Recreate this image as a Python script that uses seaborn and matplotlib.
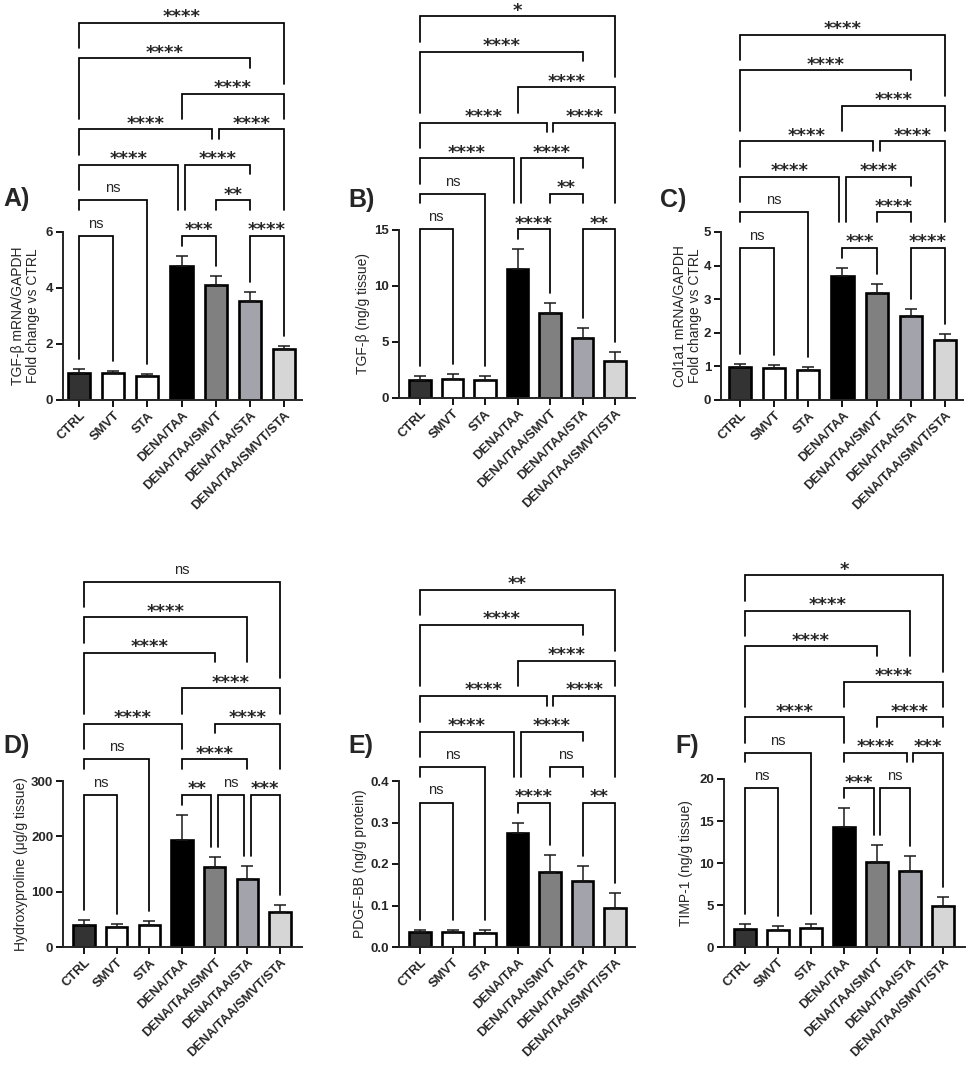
"""Six-panel fibrosis marker bar charts with significance brackets."""

import numpy as np
import pandas as pd
import matplotlib
matplotlib.use("Agg")
import matplotlib.pyplot as plt
import seaborn as sns

# ---- data -----------------------------------------------------------------
groups = ["CTRL", "SMVT", "STA", "DENA/TAA", "DENA/TAA/SMVT",
          "DENA/TAA/STA", "DENA/TAA/SMVT/STA"]
bar_colors = ["#333333", "#ffffff", "#ffffff", "#000000",
              "#808080", "#a3a3ab", "#d6d6d6"]

tgfb_mrna = [0.98, 0.96, 0.87, 4.77, 4.09, 3.54, 1.81]
tgfb_mrna_err = [0.12, 0.06, 0.07, 0.38, 0.35, 0.33, 0.13]

tgfb_protein = [1.63, 1.69, 1.63, 11.49, 7.57, 5.35, 3.27]
tgfb_protein_err = [0.30, 0.41, 0.37, 1.79, 0.95, 0.89, 0.83]

col1a1_mrna = [0.99, 0.94, 0.89, 3.70, 3.19, 2.49, 1.79]
col1a1_mrna_err = [0.08, 0.10, 0.10, 0.23, 0.26, 0.23, 0.17]

hydroxyproline = [40, 37, 39, 193, 145, 122, 64]
hydroxyproline_err = [9, 5, 8, 46, 17, 25, 12]

pdgf_bb = [0.035, 0.035, 0.034, 0.274, 0.180, 0.158, 0.095]
pdgf_bb_err = [0.006, 0.007, 0.006, 0.026, 0.042, 0.036, 0.036]

timp1 = [2.18, 2.06, 2.22, 14.33, 10.08, 9.00, 4.92]
timp1_err = [0.60, 0.48, 0.56, 2.17, 2.02, 1.80, 0.98]

# comparisons: (group i, group j, stacking level, significance)
comps_a = [(0, 1, 1, "ns"), (3, 4, 1, "***"), (5, 6, 1, "****"),
           (0, 2, 2, "ns"), (4, 5, 2, "**"),
           (0, 3, 3, "****"), (3, 5, 3, "****"),
           (0, 4, 4, "****"), (4, 6, 4, "****"),
           (3, 6, 5, "****"), (0, 5, 6, "****"), (0, 6, 7, "****")]
comps_b = [(0, 1, 1, "ns"), (3, 4, 1, "****"), (5, 6, 1, "**"),
           (0, 2, 2, "ns"), (4, 5, 2, "**"),
           (0, 3, 3, "****"), (3, 5, 3, "****"),
           (0, 4, 4, "****"), (4, 6, 4, "****"),
           (3, 6, 5, "****"), (0, 5, 6, "****"), (0, 6, 7, "*")]
comps_c = [(0, 1, 1, "ns"), (3, 4, 1, "***"), (5, 6, 1, "****"),
           (0, 2, 2, "ns"), (4, 5, 2, "****"),
           (0, 3, 3, "****"), (3, 5, 3, "****"),
           (0, 4, 4, "****"), (4, 6, 4, "****"),
           (3, 6, 5, "****"), (0, 5, 6, "****"), (0, 6, 7, "****")]
comps_d = [(0, 1, 1, "ns"), (3, 4, 1, "**"), (4, 5, 1, "ns"), (5, 6, 1, "***"),
           (0, 2, 2, "ns"), (3, 5, 2, "****"),
           (0, 3, 3, "****"), (4, 6, 3, "****"),
           (3, 6, 4, "****"), (0, 4, 5, "****"),
           (0, 5, 6, "****"), (0, 6, 7, "ns")]
comps_e = [(0, 1, 1, "ns"), (3, 4, 1, "****"), (5, 6, 1, "**"),
           (0, 2, 2, "ns"), (4, 5, 2, "ns"),
           (0, 3, 3, "****"), (3, 5, 3, "****"),
           (0, 4, 4, "****"), (4, 6, 4, "****"),
           (3, 6, 5, "****"), (0, 5, 6, "****"), (0, 6, 7, "**")]
comps_f = [(0, 1, 1, "ns"), (3, 4, 1, "***"), (4, 5, 1, "ns"),
           (0, 2, 2, "ns"), (3, 5, 2, "****"), (5, 6, 2, "***"),
           (0, 3, 3, "****"), (4, 6, 3, "****"),
           (3, 6, 4, "****"), (0, 4, 5, "****"),
           (0, 5, 6, "****"), (0, 6, 7, "*")]

# ---- layout (pixel geometry of the 969x1070 figure) ------------------------
W, H = 969, 1070
# left spine, right end, first bar, last bar, zero line, top tick, axes top
layout = {
    "A": dict(box=(63, 302, 79, 284, 400, 232, 0), ylab_x=40, letter=(3, 199)),
    "B": dict(box=(399, 635, 420, 615, 398, 230, 0), ylab_x=370, letter=(348, 200)),
    "C": dict(box=(721, 963, 740, 945, 400, 232, 0), ylab_x=702, letter=(660, 200)),
    "D": dict(box=(63, 302, 84, 280, 947, 781, 545), ylab_x=28, letter=(3, 746)),
    "E": dict(box=(399, 635, 420, 615, 947, 781, 545), ylab_x=367, letter=(348, 746)),
    "F": dict(box=(724, 965, 745, 943, 947, 779, 545), ylab_x=693, letter=(675, 746)),
}

sns.set_theme(style="ticks")
plt.rcParams["font.family"] = ["Liberation Sans", "DejaVu Sans"]
plt.rcParams["axes.linewidth"] = 1.4


def star_width(label):
    # rough rendered width in pixels
    return 9.2 * len(label) if "*" in label else 14.5


def draw_panel(fig, key, means, errs, comps, ylabel, ymax, ystep, fmt):
    left, right, first, last, zero, ttop, atop = layout[key]["box"]
    ax = fig.add_axes([left / W, 1 - zero / H, (right - left) / W, (zero - atop) / H])

    df = pd.DataFrame({"group": groups, "value": means})
    sns.barplot(data=df, x="group", y="value", hue="group", order=groups,
                hue_order=groups, palette=bar_colors, saturation=1, width=0.65,
                edgecolor="black", linewidth=1.9, errorbar=None, legend=False, ax=ax)
    ax.errorbar(np.arange(len(groups)), means, yerr=[np.zeros(len(groups)), errs],
                fmt="none", ecolor="#1a1a1a", elinewidth=1.1, capsize=4,
                capthick=1.1, zorder=3)

    spacing = (last - first) / 6.0
    px_y = (zero - ttop) / ymax          # pixels per data unit
    dx = 1.0 / spacing                   # category units per pixel
    dy = 1.0 / px_y                      # data units per pixel
    ax.set_xlim((left - first) / spacing, 6 + (right - last) / spacing)
    ax.set_ylim(0, (zero - atop) * dy)

    sns.despine(ax=ax)
    ax.spines["left"].set_bounds(0, ymax)
    ticks = np.arange(0, ymax + ystep / 2, ystep)
    ax.set_yticks(ticks)
    ax.set_yticklabels([fmt.format(t) for t in ticks], fontweight="bold", fontsize=9.5)
    ax.set_xticks(range(len(groups)))
    ax.set_xticklabels(groups, rotation=45, ha="right", rotation_mode="anchor",
                       fontweight="bold", fontsize=9.3)
    ax.tick_params(axis="both", length=5, width=1.3, pad=2, color="black")
    ax.set_xlabel("")
    ax.set_ylabel(ylabel, fontsize=10, linespacing=1.1)
    ax.yaxis.set_label_coords((layout[key]["ylab_x"] - left) / (right - left),
                              0.5 * (zero - ttop) / (zero - atop))

    # significance brackets
    tops = [m + e for m, e in zip(means, errs)]
    base = max(tops) + 20 * dy
    off = 3.3 * dx
    brackets = []
    for i, j, lev, lab in comps:
        xl = i + off if any(c[2] == lev and c[1] == i for c in comps) else i
        xr = j - off if any(c[2] == lev and c[0] == j for c in comps) else j
        brackets.append(dict(xl=xl, xr=xr, lev=lev, lab=lab,
                             y=base + (lev - 1) * 35.5 * dy))

    def leg_bottom(x, lev):
        lows = [tops[k] + 10 * dy for k in range(len(groups)) if abs(x - k) < 0.4]
        for b in brackets:
            if b["lev"] >= lev:
                continue
            if b["xl"] - 1e-6 <= x <= b["xr"] + 1e-6:
                lows.append(b["y"] + 10 * dy)
            tx = (b["xl"] + b["xr"]) / 2
            if abs(x - tx) <= (star_width(b["lab"]) / 2 + 12) * dx:
                lows.append(b["y"] + 26 * dy)
        return max(lows) if lows else 0

    for b in brackets:
        y = b["y"]
        ax.plot([b["xl"], b["xl"], b["xr"], b["xr"]],
                [leg_bottom(b["xl"], b["lev"]), y, y, leg_bottom(b["xr"], b["lev"])],
                color="black", lw=1.25, clip_on=False, solid_joinstyle="miter",
                zorder=4)
        tx = (b["xl"] + b["xr"]) / 2
        if "*" in b["lab"]:
            ax.text(tx, y + 0.5 * dy, b["lab"], ha="center", va="baseline",
                    fontsize=13, fontweight="bold", family="DejaVu Sans")
        else:
            ax.text(tx, y + 8 * dy, b["lab"], ha="center", va="baseline",
                    fontsize=10.5)

    lx, ly = layout[key]["letter"]
    fig.text(lx / W, 1 - ly / H, f"{key})", fontsize=18, fontweight="bold",
             ha="left", va="center")
    return ax


fig = plt.figure(figsize=(W / 100, H / 100), dpi=100)

draw_panel(fig, "A", tgfb_mrna, tgfb_mrna_err, comps_a,
           "TGF-β mRNA/GAPDH\nFold change vs CTRL", 6, 2, "{:.0f}")
draw_panel(fig, "B", tgfb_protein, tgfb_protein_err, comps_b,
           "TGF-β (ng/g tissue)", 15, 5, "{:.0f}")
draw_panel(fig, "C", col1a1_mrna, col1a1_mrna_err, comps_c,
           "Col1a1 mRNA/GAPDH\nFold change vs CTRL", 5, 1, "{:.0f}")
draw_panel(fig, "D", hydroxyproline, hydroxyproline_err, comps_d,
           "Hydroxyproline (μg/g tissue)", 300, 100, "{:.0f}")
draw_panel(fig, "E", pdgf_bb, pdgf_bb_err, comps_e,
           "PDGF-BB (ng/g protein)", 0.4, 0.1, "{:.1f}")
draw_panel(fig, "F", timp1, timp1_err, comps_f,
           "TIMP-1 (ng/g tissue)", 20, 5, "{:.0f}")

fig.savefig("out.png", dpi=100, facecolor="white")
plt.close(fig)
